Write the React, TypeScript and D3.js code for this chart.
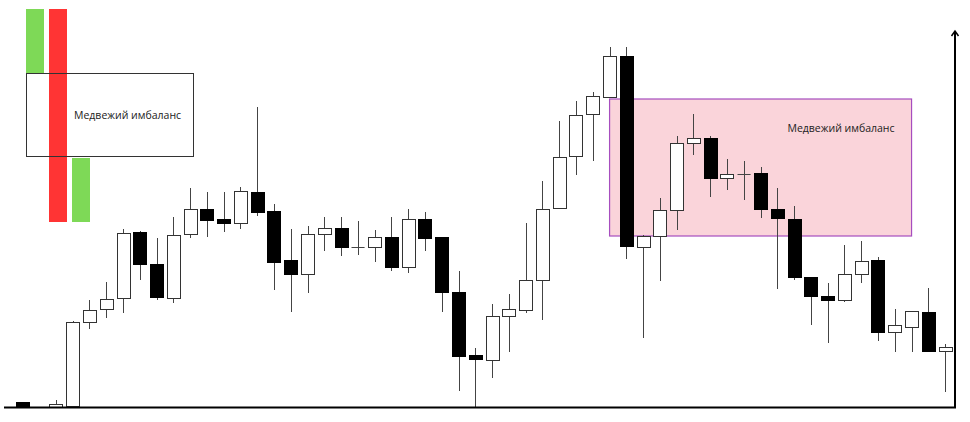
import React from 'react';
import * as d3 from 'd3';

// bar index (slot 1 is an empty gap in the source picture)
const bars = d3.range(56);
const open: (number | null)[] = [8, null, 3, 4, 88, 101, 112, 178, 146, 112, 176, 201, 191, 187, 218, 199, 150, 136, 176, 182, 163, 163, 173, 143, 191, 173, 118, 55, 50, 94, 100, 130, 202, 254, 296, 313, 354, 163, 174, 200, 267, 272, 232, 236, 237, 201, 191, 133, 114, 110, 136, 150, 78, 83, 98, 59];
const high: (number | null)[] = [8, null, 10, 89, 110, 128, 181, 179, 172, 193, 222, 218, 218, 223, 303, 206, 181, 184, 193, 193, 189, 180, 193, 201, 198, 173, 139, 62, 106, 116, 187, 229, 289, 309, 318, 363, 363, 175, 212, 274, 296, 274, 251, 249, 243, 222, 204, 133, 127, 165, 169, 153, 101, 99, 122, 66];
const low: (number | null)[] = [3, null, 3, 4, 81, 92, 97, 130, 110, 107, 172, 173, 178, 181, 194, 120, 98, 117, 159, 154, 155, 148, 139, 137, 159, 98, 19, 3, 32, 58, 97, 90, 202, 235, 249, 313, 151, 72, 129, 180, 255, 213, 220, 210, 192, 121, 130, 85, 67, 108, 127, 69, 58, 58, 59, 18];
const close: (number | null)[] = [3, null, 6, 88, 100, 111, 177, 146, 113, 175, 201, 190, 187, 219, 198, 148, 136, 176, 182, 163, 163, 173, 143, 191, 172, 118, 54, 51, 94, 101, 130, 201, 253, 295, 314, 354, 164, 174, 200, 267, 272, 232, 236, 236, 201, 192, 133, 114, 110, 136, 149, 78, 85, 99, 59, 63];

// bearish imbalance zone
const zoneStart = 35;
const zoneEnd = 53;
const zoneTop = 311;
const zoneBottom = 174;
const zoneLabel = 'Медвежий имбаланс';

const W = 970;
const H = 422;

const App: React.FC = () => {
  const x = d3.scaleBand<number>().domain(bars).range([14, 953.5]).paddingInner(0.22).paddingOuter(0.11);
  const y = d3.scaleLinear().domain([0, 400]).range([410, 10]);
  const bw = x.bandwidth();
  const cx = (i: number) => (x(i) as number) + bw / 2;

  const candles = bars.filter((i) => open[i] !== null);
  const font = '"Open Sans", "DejaVu Sans", sans-serif';

  return (
    <svg width={W} height={H} style={{ position: 'absolute', left: 0, top: 0, background: '#fff' }}>
      {/* legend */}
      <rect x={26} y={9} width={18} height={64} fill="#7ed957" />
      <rect x={49} y={9} width={18} height={213} fill="#ff3434" />
      <rect x={72} y={158} width={18} height={64} fill="#7ed957" />
      <rect x={26.5} y={73.5} width={167} height={83} fill="none" stroke="#333" strokeWidth={1} />
      <text x={74} y={119} fontFamily={font} fontSize={10.5} fill="#222">{zoneLabel}</text>

      {/* imbalance zone */}
      <rect
        x={cx(zoneStart)}
        y={y(zoneTop)}
        width={cx(zoneEnd) - cx(zoneStart)}
        height={y(zoneBottom) - y(zoneTop)}
        fill="#fad4da"
        stroke="#a64dbf"
        strokeWidth={1.2}
      />
      <text x={cx(zoneEnd) - 17} y={132} textAnchor="end" fontFamily={font} fontSize={10.5} fill="#222">{zoneLabel}</text>

      {/* candles */}
      {candles.map((i) => {
        const o = open[i] as number;
        const c = close[i] as number;
        const hi = high[i] as number;
        const lo = low[i] as number;
        const bull = c >= o;
        const top = y(Math.max(o, c));
        const bot = y(Math.min(o, c));
        const xm = Math.round(cx(i)) + 0.5;
        const x0 = Math.round(x(i) as number) + 0.5;
        return (
          <g key={i}>
            <line x1={xm} x2={xm} y1={y(hi)} y2={y(lo)} stroke="#444" strokeWidth={1} />
            {o === c ? (
              <line x1={x0} x2={x0 + bw} y1={Math.round(top) + 0.5} y2={Math.round(top) + 0.5} stroke="#444" strokeWidth={1} />
            ) : (
              <rect
                x={x0}
                y={Math.round(top) + 0.5}
                width={Math.round(bw)}
                height={Math.max(1, Math.round(bot - top))}
                fill={bull ? '#fff' : '#000'}
                stroke={bull ? '#333' : '#000'}
                strokeWidth={1}
              />
            )}
          </g>
        );
      })}

      {/* axes */}
      <line x1={4} x2={956} y1={407.5} y2={407.5} stroke="#000" strokeWidth={2} />
      <line x1={955} x2={955} y1={408} y2={31} stroke="#000" strokeWidth={2} />
      <path d="M951.5,36 L955,31 L958.5,36" fill="none" stroke="#000" strokeWidth={1.5} />
    </svg>
  );
};

export default App;
